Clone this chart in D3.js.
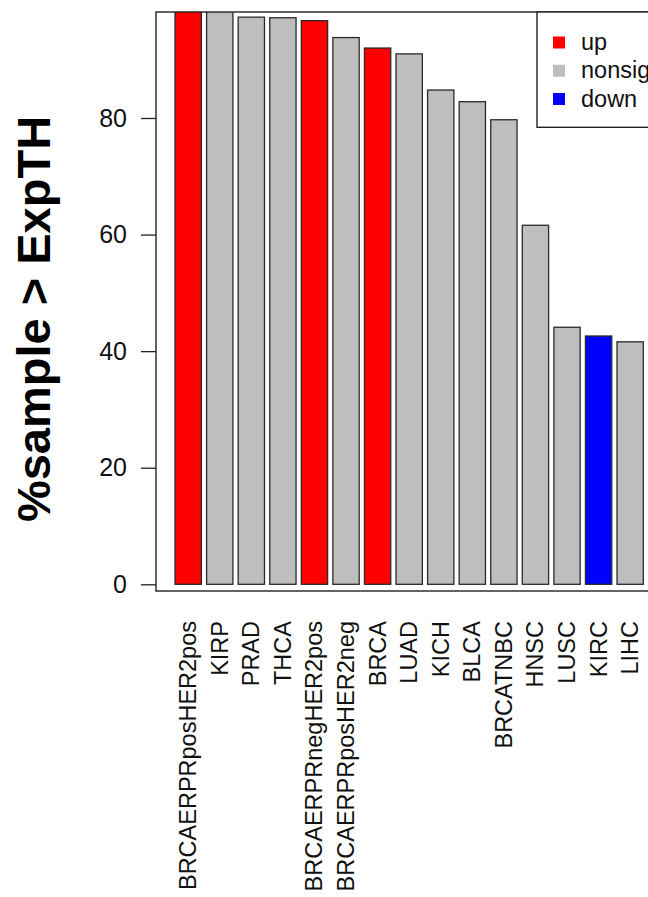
<!DOCTYPE html>
<html>
<head>
<meta charset="utf-8">
<script src="https://cdn.jsdelivr.net/npm/d3@7"></script>
<style>
  html, body { margin: 0; padding: 0; background: #fff; }
  svg { display: block; }
  text { font-family: "Liberation Sans", Arial, sans-serif; }
</style>
</head>
<body>
<script>
// ---- data ----
const categories = ["BRCAERPRposHER2pos", "KIRP", "PRAD", "THCA", "BRCAERPRnegHER2pos",
  "BRCAERPRposHER2neg", "BRCA", "LUAD", "KICH", "BLCA", "BRCATNBC", "HNSC", "LUSC", "KIRC", "LIHC"];
const values = [100, 99.5, 97.3, 97.2, 96.7, 93.8, 92.0, 91.0, 84.8, 82.8, 79.7, 61.6, 44.1, 42.6, 41.6];
const status = ["up", "nonsig", "nonsig", "nonsig", "up", "nonsig", "up", "nonsig", "nonsig",
  "nonsig", "nonsig", "nonsig", "nonsig", "down", "nonsig"];
const yTicks = [0, 20, 40, 60, 80];
const legendLabels = ["up", "nonsig", "down"];
const legendColors = ["#ff0000", "#bebebe", "#0000ff"];
const yLabel = "%sample > ExpTH";

// ---- layout ----
const W = 648, H = 897;
const plot = { left: 156, top: 12, right: 760, bottom: 591 };
const pitch = 31.57;

const svg = d3.select("body").append("svg").attr("width", W).attr("height", H);
svg.append("rect").attr("width", W).attr("height", H).attr("fill", "#fff");

const y = d3.scaleLinear().domain([0, 80]).range([584.3, 118]);
const x = d3.scaleBand().domain(categories)
  .range([172.4, 172.4 + pitch * categories.length])
  .paddingInner(1 / 6).paddingOuter(1 / 12);
const color = d3.scaleOrdinal().domain(legendLabels).range(legendColors);

svg.append("clipPath").attr("id", "clip")
  .append("rect").attr("x", plot.left).attr("y", plot.top)
  .attr("width", plot.right - plot.left).attr("height", plot.bottom - plot.top);

// bars
svg.append("g").attr("clip-path", "url(#clip)")
  .selectAll("rect").data(categories).join("rect")
  .attr("x", d => x(d))
  .attr("width", x.bandwidth())
  .attr("y", (d, i) => y(values[i]))
  .attr("height", (d, i) => y(0) - y(values[i]))
  .attr("fill", (d, i) => color(status[i]))
  .attr("stroke", "#2a2a2a")
  .attr("stroke-width", 1.3);

// plot box
svg.append("rect")
  .attr("x", plot.left).attr("y", plot.top)
  .attr("width", plot.right - plot.left).attr("height", plot.bottom - plot.top)
  .attr("fill", "none").attr("stroke", "#222").attr("stroke-width", 1.4);

// y axis
const yAxis = svg.append("g").attr("transform", `translate(${plot.left},0)`)
  .call(d3.axisLeft(y).tickValues(yTicks).tickSize(15).tickPadding(14).tickSizeOuter(0));
yAxis.select(".domain").remove();
yAxis.selectAll(".tick line").attr("stroke", "#222").attr("stroke-width", 1.3);
yAxis.selectAll(".tick text")
  .attr("font-family", "Liberation Sans, Arial, sans-serif")
  .attr("font-size", 25).attr("fill", "#111");

// x labels
svg.append("g").selectAll("text").data(categories).join("text")
  .attr("transform", d => `translate(${x(d) + x.bandwidth() / 2},621) rotate(-90)`)
  .attr("text-anchor", "end")
  .attr("dominant-baseline", "central")
  .attr("font-size", 23.5)
  .attr("fill", "#111")
  .text(d => d);

// y label
svg.append("text")
  .attr("transform", "translate(50,319) rotate(-90)")
  .attr("text-anchor", "middle")
  .attr("font-size", 47)
  .attr("font-weight", "bold")
  .attr("fill", "#000")
  .text(yLabel);

// legend
const lg = svg.append("g");
lg.append("rect").attr("x", 537).attr("y", 12).attr("width", 200).attr("height", 115.3)
  .attr("fill", "#fff").attr("stroke", "#222").attr("stroke-width", 1.4);
const rowY = d3.scalePoint().domain(legendLabels).range([42.5, 99]);
lg.selectAll("rect.key").data(legendLabels).join("rect").attr("class", "key")
  .attr("x", 553).attr("y", d => rowY(d) - 6).attr("width", 12).attr("height", 12)
  .attr("fill", d => color(d));
lg.selectAll("text").data(legendLabels).join("text")
  .attr("x", 581).attr("y", d => rowY(d) + 7.5)
  .attr("font-size", 23.5).attr("fill", "#111")
  .text(d => d);
</script>
</body>
</html>
